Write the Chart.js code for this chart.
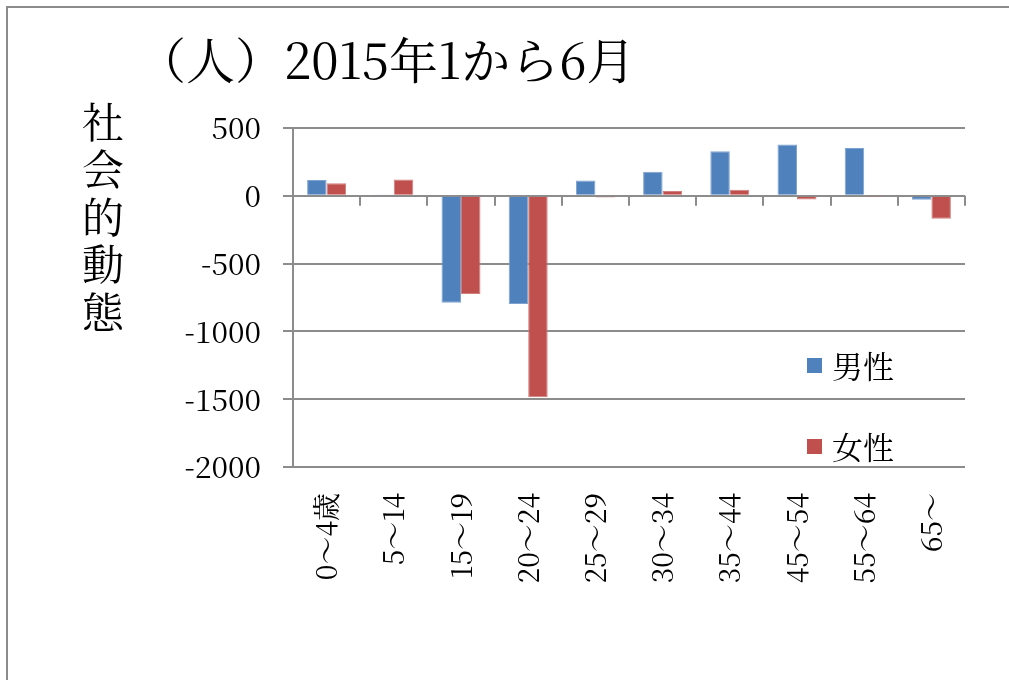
<!DOCTYPE html>
<html>
<head>
<meta charset="utf-8">
<script src="https://cdn.jsdelivr.net/npm/chart.js@4"></script>
<style>
  html, body { margin: 0; padding: 0; background: #fff; }
  canvas { display: block; }
</style>
</head>
<body>
<canvas id="chart" width="1009" height="680"></canvas>
<script>
const ageGroups = ["0～4歳", "5～14", "15～19", "20～24", "25～29", "30～34", "35～44", "45～54", "55～64", "65～"];
const maleValues = [116, 10, -788, -798, 112, 177, 328, 379, 352, -30];
const femaleValues = [92, 121, -724, -1485, -12, 36, 44, -28, -3, -170];
const yTicks = [500, 0, -500, -1000, -1500, -2000];
const titleText = "（人）2015年1から6月";
const yTitleText = "社会的動態";

const mincho = '"Noto Serif CJK JP", "Liberation Serif", serif';
const gridColor = "#8c8c8c";

// frame, titles, legend and the category tick marks on the zero line
const decorations = {
  id: "decorations",
  afterDatasetsDraw(chart) {
    const ctx = chart.ctx;
    const x = chart.scales.x;
    const y0 = chart.scales.y.getPixelForValue(0);
    ctx.save();
    ctx.strokeStyle = gridColor;
    ctx.lineWidth = 2;
    ctx.beginPath();
    for (let i = 1; i <= ageGroups.length; i++) {
      const px = Math.round(x.getPixelForValue(i - 0.5));
      ctx.moveTo(px, y0);
      ctx.lineTo(px, y0 + 10);
    }
    ctx.stroke();
    ctx.restore();
  },
  afterDraw(chart) {
    const ctx = chart.ctx;
    ctx.save();
    // outer frame
    ctx.strokeStyle = gridColor;
    ctx.lineWidth = 2;
    ctx.beginPath();
    ctx.moveTo(7, 690);
    ctx.lineTo(7, 7);
    ctx.lineTo(1020, 7);
    ctx.stroke();

    // title
    ctx.fillStyle = "#000";
    ctx.font = "49px " + mincho;
    ctx.textAlign = "left";
    ctx.textBaseline = "middle";
    ctx.fillText(titleText, 137, 60);

    // vertical y axis title
    ctx.font = "42px " + mincho;
    ctx.textAlign = "center";
    [...yTitleText].forEach((ch, i) => {
      ctx.fillText(ch, 103, 122 + i * 47.5);
    });

    // legend
    chart.data.datasets.forEach((ds, i) => {
      const cy = 366 + i * 81;
      ctx.fillStyle = ds.backgroundColor;
      ctx.fillRect(807, cy - 8, 15, 15);
      ctx.fillStyle = "#000";
      ctx.font = "31px " + mincho;
      ctx.textAlign = "left";
      ctx.fillText(ds.label, 832, cy);
    });
    ctx.restore();
  }
};

new Chart(document.getElementById("chart").getContext("2d"), {
  type: "bar",
  data: {
    labels: ageGroups,
    datasets: [
      {
        label: "男性",
        data: maleValues,
        backgroundColor: "#4F81BD",
        borderColor: "#7fa3d0",
        borderWidth: 1,
        categoryPercentage: 0.58,
        barPercentage: 1.0
      },
      {
        label: "女性",
        data: femaleValues,
        backgroundColor: "#C0504D",
        borderColor: "#d07f7d",
        borderWidth: 1,
        categoryPercentage: 0.58,
        barPercentage: 1.0
      }
    ]
  },
  options: {
    responsive: false,
    animation: false,
    layout: { padding: { top: 128, right: 44, left: 0, bottom: 0 } },
    plugins: {
      legend: { display: false },
      title: { display: false },
      tooltip: { enabled: false }
    },
    scales: {
      x: {
        grid: { display: false },
        border: { display: false },
        ticks: {
          autoSkip: false,
          minRotation: 90,
          maxRotation: 90,
          padding: 18,
          color: "#000",
          font: { family: mincho, size: 28 }
        },
        afterFit(scale) { scale.height = 213; }
      },
      y: {
        min: -2000,
        max: 500,
        afterBuildTicks(scale) {
          scale.ticks = yTicks.map(v => ({ value: v }));
        },
        grid: {
          color: gridColor,
          lineWidth: 2,
          tickLength: 10,
          drawTicks: true
        },
        border: { display: true, color: gridColor, width: 2 },
        ticks: {
          padding: 22,
          color: "#000",
          font: { family: mincho, size: 30 },
          callback: v => String(v)
        },
        afterFit(scale) { scale.width = 293; }
      }
    }
  },
  plugins: [decorations]
});
</script>
</body>
</html>
